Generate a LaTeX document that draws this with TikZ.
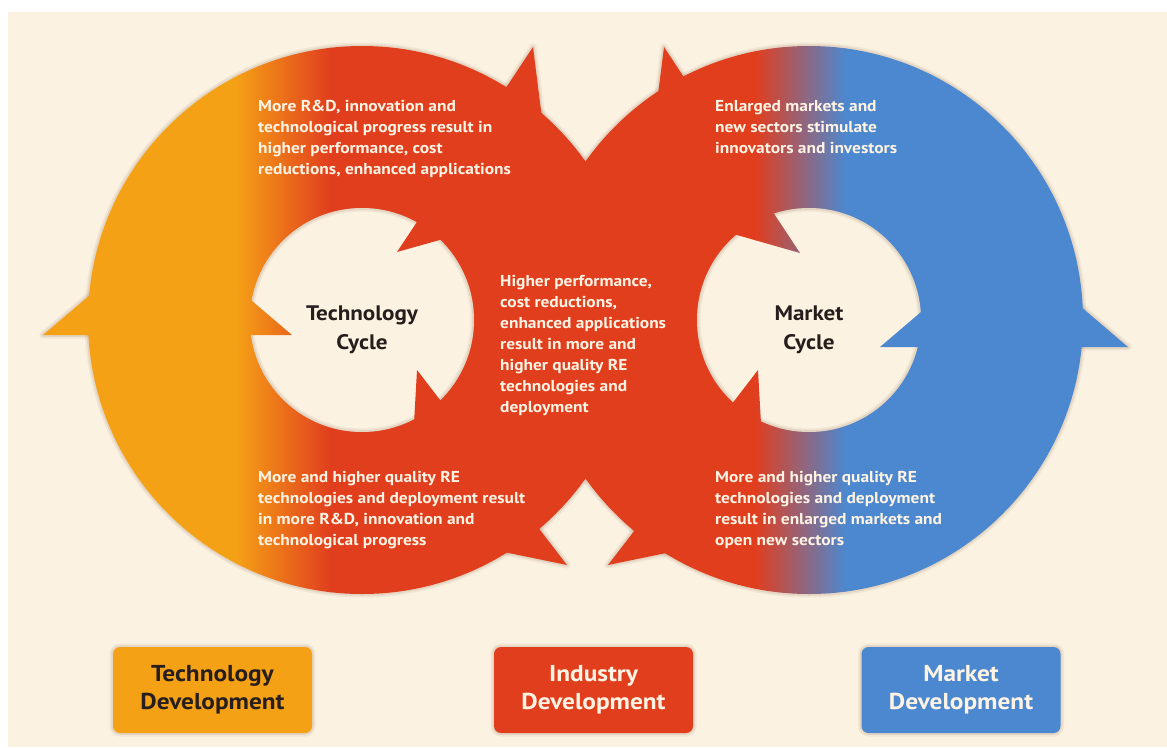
\documentclass[tikz,border=0pt]{standalone}
\usepackage{fontspec}
\newfontfamily\lbl{PT Sans}[FakeStretch=1.1]
\definecolor{bgcream}{RGB}{252,242,226}
\definecolor{orng}{RGB}{245,161,22}
\definecolor{rred}{RGB}{225,62,30}
\definecolor{bblue}{RGB}{76,136,208}
\definecolor{txtcream}{RGB}{255,244,228}
\definecolor{darktxt}{RGB}{38,30,28}
\definecolor{shadowc}{RGB}{150,120,95}
\newcommand\gradfill{%
  \fill[orng] (0,0) rectangle (236,747);
  \shade[left color=orng,right color=rred] (235,0) rectangle (331,747);
  \fill[rred] (330,0) rectangle (756,747);
  \shade[left color=rred,right color=bblue] (755,0) rectangle (846,747);
  \fill[bblue] (845,0) rectangle (1167,747);}
\tikzset{
  glowa/.style={draw=shadowc, line width=7pt, draw opacity=0.10, line join=round},
  glowb/.style={draw=shadowc, line width=3.5pt, draw opacity=0.14, line join=round},
  ringtxt/.style={text=txtcream, font=\lbl\bfseries\fontsize{15.8}{21}\selectfont, align=left, inner sep=0pt, anchor=north west},
  cyclbl/.style={text=darktxt, font=\lbl\bfseries\fontsize{21}{29.5}\selectfont, align=center, inner sep=0pt},
  devbox/.style={minimum width=199pt, minimum height=86pt, rounded corners=7pt, inner sep=0pt, align=center,
    font=\lbl\bfseries\fontsize{23}{28}\selectfont,
    preaction={glowa}, preaction={glowb}}
}
\begin{document}
\begin{tikzpicture}[x=1pt,y=-1pt]
\useasboundingbox (0,0) rectangle (1167,747);
\fill[white] (0,0) rectangle (1167,747);
\fill[bgcream] (8,12) rectangle (1167,747);
% soft halo under the whole figure
\foreach \g in {glowa,glowb}{
  \path[\g] (362,320) circle[radius=274pt];
  \path[\g] (809,320) circle[radius=274pt];
  \path[\g] (43,335) -- (292,335) -- (167.5,229) -- cycle;
  \path[\g] (880,347) -- (1128,347) -- (1004,241) -- cycle;
  \path[\g] (397,252) -- (533,47) -- (553.3,208.1) -- cycle;
  \path[\g] (800,253) -- (664,47) -- (643.6,208.4) -- cycle;
  \path[\g] (417,370) -- (567,565) -- (407.9,532.2) -- cycle;
  \path[\g] (758,370) -- (608,565) -- (767.1,532.2) -- cycle;
}
% outer disks
\begin{scope}\clip (362,320) circle[radius=274pt]; \gradfill\end{scope}
\begin{scope}\clip (809,320) circle[radius=274pt]; \gradfill\end{scope}
% holes
\fill[bgcream] (362,320) circle[radius=112pt];
\fill[bgcream] (809,320) circle[radius=112pt];
\begin{scope}\clip (362,320) circle[radius=112pt];
  \path[glowa] (362,320) circle[radius=112pt]; \path[glowb] (362,320) circle[radius=112pt];\end{scope}
\begin{scope}\clip (809,320) circle[radius=112pt];
  \path[glowa] (809,320) circle[radius=112pt]; \path[glowb] (809,320) circle[radius=112pt];\end{scope}
% arrowheads
\begin{scope}\clip (43,335) -- (292,335) -- (167.5,229) -- cycle; \gradfill\end{scope}
\begin{scope}\clip (880,347) -- (1128,347) -- (1004,241) -- cycle; \gradfill\end{scope}
\begin{scope}\clip (397,252) -- (533,47) -- (553.3,208.1) -- cycle; \gradfill\end{scope}
\begin{scope}\clip (800,253) -- (664,47) -- (643.6,208.4) -- cycle; \gradfill\end{scope}
\begin{scope}\clip (417,370) -- (567,565) -- (407.9,532.2) -- cycle; \gradfill\end{scope}
\begin{scope}\clip (758,370) -- (608,565) -- (767.1,532.2) -- cycle; \gradfill\end{scope}
% ring texts
\node[ringtxt] (ttop) at (258,100) {More R\&D, innovation and\\technological progress result in\\higher performance, cost\\reductions, enhanced applications};
\node[ringtxt] (tbot) at (258,471) {More and higher quality RE\\technologies and deployment result\\in more R\&D, innovation and\\technological progress};
\node[ringtxt] (mid) at (500,275) {Higher performance,\\cost reductions,\\enhanced applications\\result in more and\\higher quality RE\\technologies and\\deployment};
\node[ringtxt] (mtop) at (715,100) {Enlarged markets and\\new sectors stimulate\\innovators and investors};
\node[ringtxt] (mbot) at (715,471) {More and higher quality RE\\technologies and deployment\\result in enlarged markets and\\open new sectors};
% cycle labels
\node[cyclbl] (techcyc) at (362,330) {Technology\\Cycle};
\node[cyclbl] (markcyc) at (809,330) {Market\\Cycle};
% development boxes
\node[devbox, fill=orng, text=darktxt] (techdev) at (212.5,690) {Technology\\Development};
\node[devbox, fill=rred, text=txtcream] (inddev) at (593.5,690) {Industry\\Development};
\node[devbox, fill=bblue, text=txtcream] (markdev) at (961,690) {Market\\Development};
\end{tikzpicture}
\end{document}
